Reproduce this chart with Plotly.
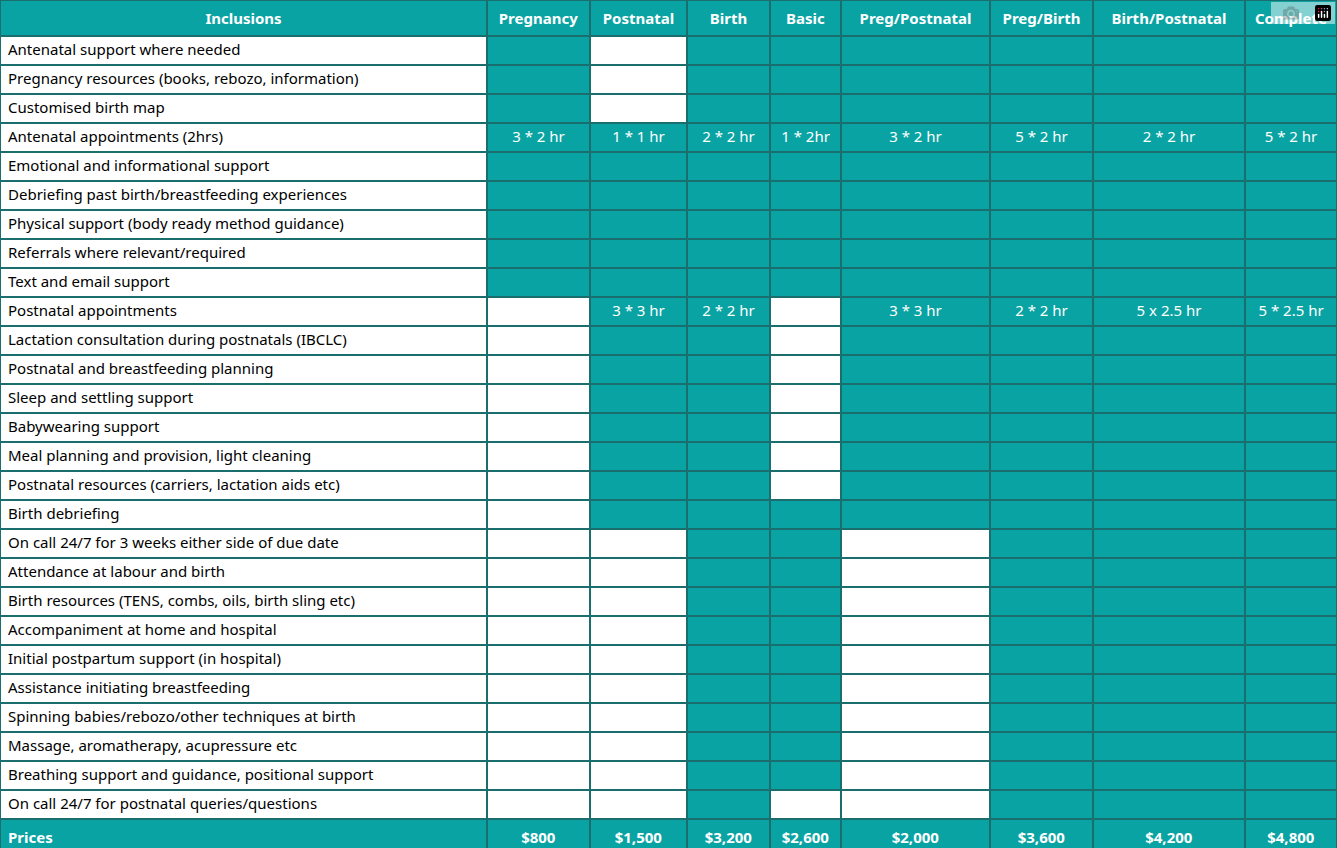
import plotly.graph_objects as go

columns = ["Inclusions", "Pregnancy", "Postnatal", "Birth", "Basic", "Preg/Postnatal", "Preg/Birth", "Birth/Postnatal", "Complete"]
inclusions = [
    "Antenatal support where needed",
    "Pregnancy resources (books, rebozo, information)",
    "Customised birth map",
    "Antenatal appointments (2hrs)",
    "Emotional and informational support",
    "Debriefing past birth/breastfeeding experiences",
    "Physical support (body ready method guidance)",
    "Referrals where relevant/required",
    "Text and email support",
    "Postnatal appointments",
    "Lactation consultation during postnatals (IBCLC)",
    "Postnatal and breastfeeding planning",
    "Sleep and settling support",
    "Babywearing support",
    "Meal planning and provision, light cleaning",
    "Postnatal resources (carriers, lactation aids etc)",
    "Birth debriefing",
    "On call 24/7 for 3 weeks either side of due date",
    "Attendance at labour and birth",
    "Birth resources (TENS, combs, oils, birth sling etc)",
    "Accompaniment at home and hospital",
    "Initial postpartum support (in hospital)",
    "Assistance initiating breastfeeding",
    "Spinning babies/rebozo/other techniques at birth",
    "Massage, aromatherapy, acupressure etc",
    "Breathing support and guidance, positional support",
    "On call 24/7 for postnatal queries/questions",
]
# 1 = included (teal), 0 = not included (white); columns Pregnancy..Complete
included = [
    [1,0,1,1,1,1,1,1],
    [1,0,1,1,1,1,1,1],
    [1,0,1,1,1,1,1,1],
    [1,1,1,1,1,1,1,1],
    [1,1,1,1,1,1,1,1],
    [1,1,1,1,1,1,1,1],
    [1,1,1,1,1,1,1,1],
    [1,1,1,1,1,1,1,1],
    [1,1,1,1,1,1,1,1],
    [0,1,1,0,1,1,1,1],
    [0,1,1,0,1,1,1,1],
    [0,1,1,0,1,1,1,1],
    [0,1,1,0,1,1,1,1],
    [0,1,1,0,1,1,1,1],
    [0,1,1,0,1,1,1,1],
    [0,1,1,0,1,1,1,1],
    [0,1,1,1,1,1,1,1],
    [0,0,1,1,0,1,1,1],
    [0,0,1,1,0,1,1,1],
    [0,0,1,1,0,1,1,1],
    [0,0,1,1,0,1,1,1],
    [0,0,1,1,0,1,1,1],
    [0,0,1,1,0,1,1,1],
    [0,0,1,1,0,1,1,1],
    [0,0,1,1,0,1,1,1],
    [0,0,1,1,0,1,1,1],
    [0,0,1,0,0,1,1,1],
]
antenatal_appts = ["3 * 2 hr", "1 * 1 hr", "2 * 2 hr", "1 * 2hr", "3 * 2 hr", "5 * 2 hr", "2 * 2 hr", "5 * 2 hr"]
postnatal_appts = ["", "3 * 3 hr", "2 * 2 hr", "", "3 * 3 hr", "2 * 2 hr", "5 x 2.5 hr", "5 * 2.5 hr"]
prices = ["$800", "$1,500", "$3,200", "$2,600", "$2,000", "$3,600", "$4,200", "$4,800"]
col_widths = [487, 103, 97, 83, 71, 149, 103, 152, 92]

TEAL = "#0AA3A3"
LINE = "#1B6E6E"

n = len(inclusions)
cell_values = [inclusions + ["<b>Prices</b>"]]
fills = [["white"] * n + [TEAL]]
fcolors = [["black"] * n + ["white"]]
for j in range(8):
    vals = []
    for i in range(n):
        if i == 3:
            vals.append(antenatal_appts[j])
        elif i == 9:
            vals.append(postnatal_appts[j])
        else:
            vals.append("")
    vals.append("<b>" + prices[j] + "</b>")
    cell_values.append(vals)
    fills.append([TEAL if included[i][j] else "white" for i in range(n)] + [TEAL])
    fcolors.append(["white"] * (n + 1))

fig = go.Figure(go.Table(
    columnwidth=col_widths,
    domain=dict(x=[0, 1], y=[0, 1]),
    header=dict(
        values=["<b>" + c + "</b>" for c in columns],
        fill_color=TEAL, line_color=LINE, line_width=2,
        font=dict(family="Noto Sans", size=15, color="white"),
        align="center", height=33,
    ),
    cells=dict(
        values=cell_values,
        fill_color=fills, line_color=LINE, line_width=1.5,
        font=dict(family="Noto Sans", size=15, color=fcolors),
        align=["left"] + ["center"] * 8, height=29,
    ),
))
fig.update_layout(width=1337, height=848, margin=dict(l=0, r=0, t=0, b=0), paper_bgcolor="white")
fig.write_html("out.html", post_script="document.body.style.margin='0';")
